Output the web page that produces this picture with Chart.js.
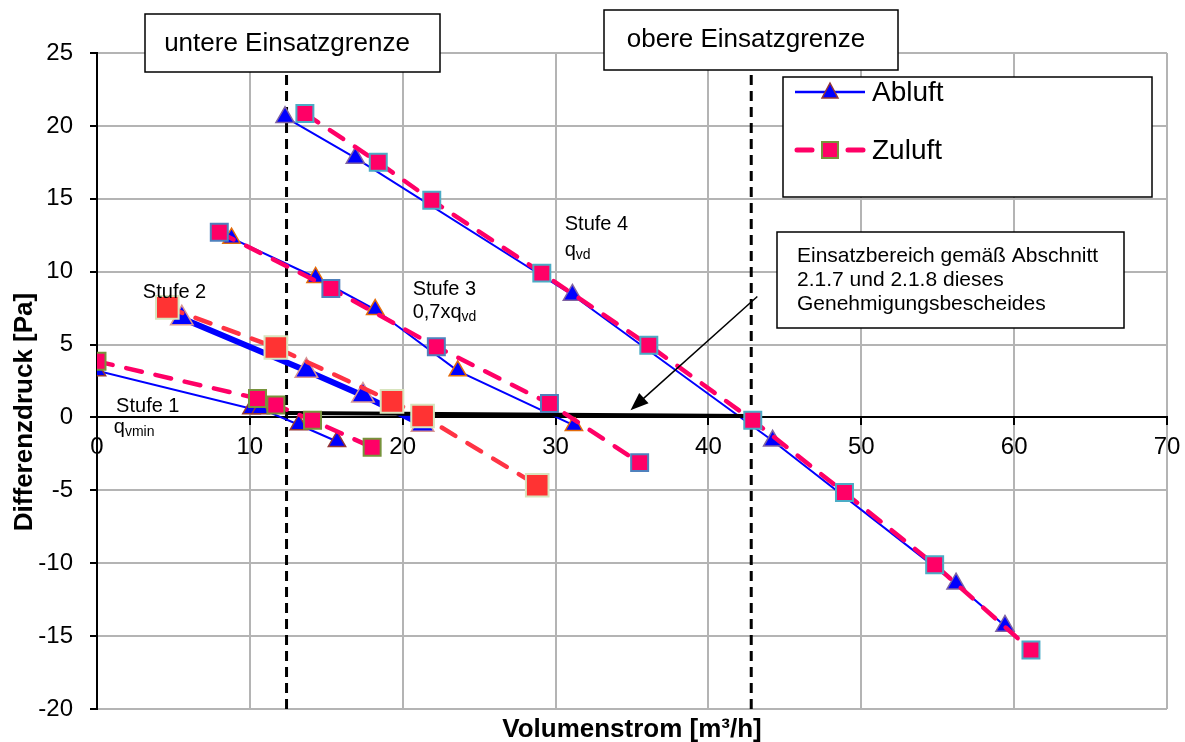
<!DOCTYPE html>
<html>
<head>
<meta charset="utf-8">
<script src="https://cdn.jsdelivr.net/npm/chart.js@4.4.1/dist/chart.umd.min.js"></script>
<style>
  html, body { margin: 0; padding: 0; background: #fff; }
</style>
</head>
<body>
<canvas id="myChart" width="1185" height="742"></canvas>
<script>
// tick labels
const xTicks = [0, 10, 20, 30, 40, 50, 60, 70];
const yTicks = [-20, -15, -10, -5, 0, 5, 10, 15, 20, 25];

// Volumenstrom [m3/h], Differenzdruck [Pa]
const abluft1 = [[0, 3.2], [10.1, 0.6], [10.7, 0.6], [13.2, -0.5], [15.7, -1.65]];
const zuluft1 = [[0, 3.85], [10.5, 1.3], [11.7, 0.85], [14.1, -0.2], [18.0, -2.05]];
const abluft2 = [[5.55, 6.8], [13.7, 3.2], [17.4, 1.5], [21.3, -0.5]];
const zuluft2 = [[4.6, 7.55], [11.7, 4.8], [19.3, 1.1], [21.3, 0.1], [28.8, -4.65]];
const abluft3 = [[8.8, 12.3], [14.3, 9.6], [18.2, 7.4], [23.6, 3.2], [31.2, -0.55]];
const zuluft3 = [[8.0, 12.7], [15.3, 8.85], [22.2, 4.85], [29.6, 0.95], [35.5, -3.1]];
const abluft4 = [[12.3, 20.6], [16.9, 17.8], [31.1, 8.4], [44.2, -1.6], [56.2, -11.4], [59.4, -14.3]];
const zuluft4 = [[13.6, 20.85], [18.4, 17.5], [21.9, 14.9], [29.1, 9.9], [36.1, 4.95], [42.9, -0.2], [48.9, -5.15], [54.8, -10.1], [61.1, -15.95]];

// Einsatzgrenzen and Einsatzbereich
const untereGrenze = 12.4;
const obereGrenze = 42.8;
const einsatzbereich = [[12.4, 0.3], [42.8, 0.1]];

const FONT = '"Liberation Sans", Arial, sans-serif';
const PINK = '#FF0066';
const BLUE = '#0000FF';
const GRID = '#B4B4B4';

const toPoints = (arr) => arr.map(([x, y]) => ({ x, y }));

const abluftSet = (data, width, edge, r) => ({
  label: 'Abluft', data: toPoints(data), showLine: true,
  borderColor: BLUE, borderWidth: width,
  pointStyle: 'triangle', pointRadius: r, pointBackgroundColor: BLUE,
  pointBorderColor: edge, pointBorderWidth: 1.5, order: 3,
});

const zuluftSet = (data, color, fill, edge, r) => ({
  label: 'Zuluft', data: toPoints(data), showLine: true,
  borderColor: color, borderWidth: 4.5, borderDash: [16, 14], borderCapStyle: 'round',
  pointStyle: 'rect', pointRadius: r, pointBackgroundColor: fill,
  pointBorderColor: edge, pointBorderWidth: 2, order: 1,
});

const grenzeSet = (xv) => ({
  label: 'grenze', data: [{ x: xv, y: -20 }, { x: xv, y: 25 }], showLine: true,
  borderColor: '#000', borderWidth: 3, borderDash: [10, 6], pointRadius: 0, order: 4,
});

// labels in data units
const stufeLabels = [
  { x: 1.25, y: 0.35, parts: [['Stufe 1', 20, 0]] },
  { x: 1.1, y: -1.1, parts: [['q', 20, 0], ['vmin', 14, 3]] },
  { x: 3.0, y: 8.2, parts: [['Stufe 2', 20, 0]] },
  { x: 20.65, y: 8.4, parts: [['Stufe 3', 20, 0]] },
  { x: 20.65, y: 6.8, parts: [['0,7xq', 20, 0], ['vd', 14, 3]] },
  { x: 30.6, y: 12.85, parts: [['Stufe 4', 20, 0]] },
  { x: 30.6, y: 11.1, parts: [['q', 20, 0], ['vd', 14, 3]] },
];
const arrowFrom = [43.2, 8.3];
const arrowTo = [34.9, 0.5];

function drawParts(ctx, parts, x, y) {
  ctx.textAlign = 'left';
  ctx.textBaseline = 'alphabetic';
  let cx = x;
  parts.forEach(([t, size, dy]) => {
    ctx.font = size + 'px ' + FONT;
    ctx.fillText(t, cx, y + dy);
    cx += ctx.measureText(t).width;
  });
}

function textBox(ctx, x1, y1, x2, y2) {
  ctx.fillStyle = '#fff';
  ctx.fillRect(x1, y1, x2 - x1, y2 - y1);
  ctx.strokeStyle = '#000';
  ctx.lineWidth = 1.5;
  ctx.setLineDash([]);
  ctx.strokeRect(x1, y1, x2 - x1, y2 - y1);
}

const decorations = {
  id: 'decorations',
  afterDatasetsDraw(chart) {
    const { ctx, scales: { x, y } } = chart;
    ctx.save();
    ctx.fillStyle = '#000';

    stufeLabels.forEach((l) => drawParts(ctx, l.parts, x.getPixelForValue(l.x), y.getPixelForValue(l.y)));

    // y axis title
    ctx.save();
    ctx.translate(25, 412);
    ctx.rotate(-Math.PI / 2);
    ctx.font = 'bold 26px ' + FONT;
    ctx.textAlign = 'center';
    ctx.textBaseline = 'middle';
    ctx.fillText('Differenzdruck [Pa]', 0, 0);
    ctx.restore();

    // arrow
    const ax1 = x.getPixelForValue(arrowFrom[0]), ay1 = y.getPixelForValue(arrowFrom[1]);
    const ax2 = x.getPixelForValue(arrowTo[0]), ay2 = y.getPixelForValue(arrowTo[1]);
    const ang = Math.atan2(ay2 - ay1, ax2 - ax1);
    ctx.strokeStyle = '#000';
    ctx.lineWidth = 1.5;
    ctx.beginPath();
    ctx.moveTo(ax1, ay1);
    ctx.lineTo(ax2 - 12 * Math.cos(ang), ay2 - 12 * Math.sin(ang));
    ctx.stroke();
    ctx.beginPath();
    ctx.moveTo(ax2, ay2);
    ctx.lineTo(ax2 - 18 * Math.cos(ang) + 7 * Math.sin(ang), ay2 - 18 * Math.sin(ang) - 7 * Math.cos(ang));
    ctx.lineTo(ax2 - 18 * Math.cos(ang) - 7 * Math.sin(ang), ay2 - 18 * Math.sin(ang) + 7 * Math.cos(ang));
    ctx.closePath();
    ctx.fill();

    // boxes
    textBox(ctx, 145, 14, 440, 72);
    textBox(ctx, 604, 10, 898, 70);
    textBox(ctx, 777, 232, 1124, 328);
    ctx.fillStyle = '#000';
    ctx.font = '26px ' + FONT;
    ctx.textAlign = 'center';
    ctx.textBaseline = 'middle';
    ctx.fillText('untere Einsatzgrenze', 287, 44);
    ctx.fillText('obere Einsatzgrenze', 746, 40);
    ctx.font = '21px ' + FONT;
    ctx.textAlign = 'left';
    ctx.textBaseline = 'alphabetic';
    ctx.fillText('Einsatzbereich gemäß Abschnitt', 797, 262);
    ctx.fillText('2.1.7 und 2.1.8 dieses', 797, 286);
    ctx.fillText('Genehmigungsbescheides', 797, 310);

    // legend
    textBox(ctx, 783, 77, 1152, 197);
    ctx.lineWidth = 2.5;
    ctx.strokeStyle = BLUE;
    ctx.beginPath();
    ctx.moveTo(795, 92);
    ctx.lineTo(865, 92);
    ctx.stroke();
    ctx.beginPath();
    ctx.moveTo(830, 83);
    ctx.lineTo(838, 98);
    ctx.lineTo(822, 98);
    ctx.closePath();
    ctx.fillStyle = BLUE;
    ctx.fill();
    ctx.strokeStyle = '#953735';
    ctx.lineWidth = 1.5;
    ctx.stroke();

    ctx.strokeStyle = PINK;
    ctx.lineWidth = 5;
    ctx.lineCap = 'round';
    ctx.beginPath();
    ctx.moveTo(797, 150); ctx.lineTo(812, 150);
    ctx.moveTo(848, 150); ctx.lineTo(863, 150);
    ctx.stroke();
    ctx.lineCap = 'butt';
    ctx.fillStyle = PINK;
    ctx.fillRect(822, 142, 16, 16);
    ctx.strokeStyle = '#77933C';
    ctx.lineWidth = 2;
    ctx.strokeRect(822, 142, 16, 16);

    ctx.fillStyle = '#000';
    ctx.font = '28px ' + FONT;
    ctx.textBaseline = 'middle';
    ctx.fillText('Abluft', 872, 93);
    ctx.fillText('Zuluft', 872, 151);
    ctx.restore();
  }
};

new Chart(document.getElementById('myChart'), {
  type: 'scatter',
  data: {
    datasets: [
      zuluftSet(zuluft1, PINK, PINK, '#77933C', 12),
      zuluftSet(zuluft2, '#FF3344', '#FF3333', '#D7E4BD', 16),
      zuluftSet(zuluft3, PINK, PINK, '#4F81BD', 12),
      zuluftSet(zuluft4, PINK, PINK, '#4BACC6', 12),
      { label: 'bereich', data: toPoints(einsatzbereich), showLine: true, borderColor: '#000', borderWidth: 4, pointRadius: 0, order: 2 },
      abluftSet(abluft1, 2, '#953735', 10),
      abluftSet(abluft2, 6, '#D99694', 13),
      abluftSet(abluft3, 2, '#E46C0A', 10),
      abluftSet(abluft4, 2, '#8064A2', 10.5),
      grenzeSet(untereGrenze),
      grenzeSet(obereGrenze),
    ]
  },
  options: {
    responsive: false,
    animation: false,
    layout: { padding: { top: 53, right: 15, bottom: 0, left: 0 } },
    plugins: { legend: { display: false }, tooltip: { enabled: false } },
    scales: {
      x: {
        type: 'linear', min: 0, max: 70, position: { y: 0 },
        afterBuildTicks: (a) => { a.ticks = xTicks.map((v) => ({ value: v })); },
        afterFit: (s) => { s.paddingLeft = 0; s.paddingRight = 0; },
        grid: { color: GRID, lineWidth: 2, tickLength: 7, tickColor: '#000', tickWidth: 2 },
        border: { color: '#000', width: 2 },
        ticks: { color: '#000', font: { family: FONT, size: 24 }, padding: 9, maxRotation: 0 },
      },
      xt: {
        type: 'linear', position: 'bottom', min: 0, max: 70,
        ticks: { display: false },
        grid: { display: false, drawTicks: false },
        border: { display: false },
        title: { display: true, text: 'Volumenstrom [m³/h]', color: '#000', font: { family: FONT, size: 26, weight: 'bold' }, padding: { top: 0, bottom: -3 } },
        afterFit: (s) => { s.height = 33; s.paddingLeft = 0; s.paddingRight = 0; },
      },
      y: {
        type: 'linear', min: -20, max: 25, position: 'left',
        afterBuildTicks: (a) => { a.ticks = yTicks.map((v) => ({ value: v })); },
        grid: { color: GRID, lineWidth: 2, tickLength: 7, tickColor: '#000', tickWidth: 2 },
        border: { color: '#000', width: 2 },
        ticks: { color: '#000', font: { family: FONT, size: 24 }, padding: 17 },
        afterFit: (s) => { s.width = 97; s.paddingTop = 0; s.paddingBottom = 0; },
      },
    },
  },
  plugins: [decorations],
});
</script>
</body>
</html>
